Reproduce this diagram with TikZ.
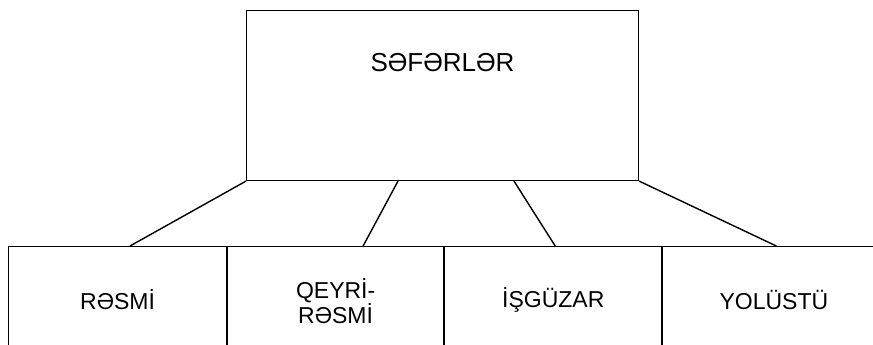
\documentclass[tikz,border=0pt]{standalone}
\usepackage{fontspec}
\setmainfont{Liberation Sans}
\usetikzlibrary{positioning}
\tikzset{
	main node/.style={rectangle,draw,line width=1.1pt,minimum width=392pt,minimum height=170pt,anchor=north west},
	leaf node/.style={rectangle,draw,line width=1.1pt,minimum height=160pt,anchor=north west},
	top text/.style={font=\fontsize{26}{28}\selectfont,inner sep=0pt},
	leaf text/.style={font=\fontsize{23}{24}\selectfont,align=center,inner sep=0pt}
}

\begin{document}
\begin{tikzpicture}[x=1pt,y=-1pt,line width=1.4pt]
	\useasboundingbox (0,0) rectangle (873,345);
	\node [main node] (1) at (246,10) {};
	\node [top text] (t1) at ([yshift=-53pt]1.north) {SƏFƏRLƏR};
	% lower row
	\node [leaf node,minimum width=218pt] (2) at (8,246) {};
	\node [leaf node,minimum width=216pt,right=0pt of 2.north east,anchor=north west] (3) {};
	\node [leaf node,minimum width=217pt,right=0pt of 3.north east,anchor=north west] (4) {};
	\node [leaf node,minimum width=222pt,right=0pt of 4.north east,anchor=north west] (5) {};
	\draw [line width=1.9pt] (4.north west) -- (4.south west);
	\node [leaf text] (t2) at ([yshift=-54pt]2.north) {RƏSMİ};
	\node [leaf text] (t3) at ([yshift=-55pt]3.north) {QEYRİ-\\RƏSMİ};
	\node [leaf text] (t4) at ([yshift=-54pt]4.north) {İŞGÜZAR};
	\node [leaf text] (t5) at ([yshift=-54pt]5.north) {YOLÜSTÜ};
	% links
	\draw (1.south west) -- ([xshift=122pt]2.north west);
	\draw ([xshift=152pt]1.south west) -- ([xshift=136pt]3.north west);
	\draw ([xshift=268pt]1.south west) -- ([xshift=111pt]4.north west);
	\draw (1.south east) -- ([xshift=114pt]5.north west);
\end{tikzpicture}
\end{document}
